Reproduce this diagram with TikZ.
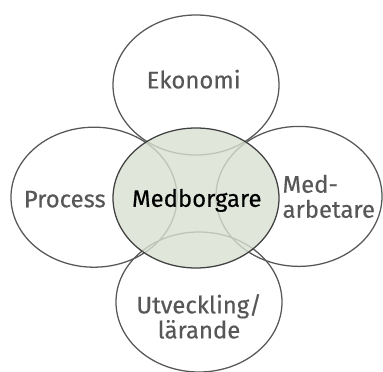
\documentclass[tikz,border=0pt]{standalone}
\usepackage{fontspec}
\setmainfont{Fira Sans}[UprightFeatures={FakeBold=0.4}]
\usetikzlibrary{shapes.geometric}

\definecolor{ringgray}{HTML}{575757}
\definecolor{sage}{HTML}{D8E0D0}

\begin{document}
\begin{tikzpicture}[
  font=\fontsize{17}{17.8}\selectfont,
  ring/.style = {ellipse, draw=ringgray, line width=0.9pt, inner sep=0pt,
                 minimum width=41.5mm, minimum height=35mm},
  core/.style = {ring, draw=black!75, fill=sage, fill opacity=0.8,
                 text opacity=1},
  lbl/.style = {text=ringgray, align=center}
]
\useasboundingbox (-49mm,-43.5mm) rectangle (46.75mm,49.5mm);

% Outer ellipses
\node[ring] (ekonomi) at (0,28.25mm) {};
\node[ring] (process) at (-25.5mm,0.2mm) {};
\node[ring] (medarb) at (25.75mm,0.4mm) {};
\node[ring] (utveckl) at (0.75mm,-26mm) {};

% Centre ellipse on top
\node[core] (medborg) at (0,0) {};

% Labels
\node[lbl] (ekonomi_txt) at (-0.6mm,29.7mm) {Ekonomi};
\node[lbl] (process_txt) at (-32.8mm,-0.3mm) {Process};
\node[lbl, align=left, anchor=west] (medarb_txt) at (20.4mm,0.4mm) {Med-\\arbetare};
\node[lbl] (utveckl_txt) at (0.75mm,-29.6mm) {Utveckling/\\lärande};
\node[text=black] (medborg_txt) at (0.2mm,-0.6mm) {Medborgare};

\end{tikzpicture}
\end{document}
